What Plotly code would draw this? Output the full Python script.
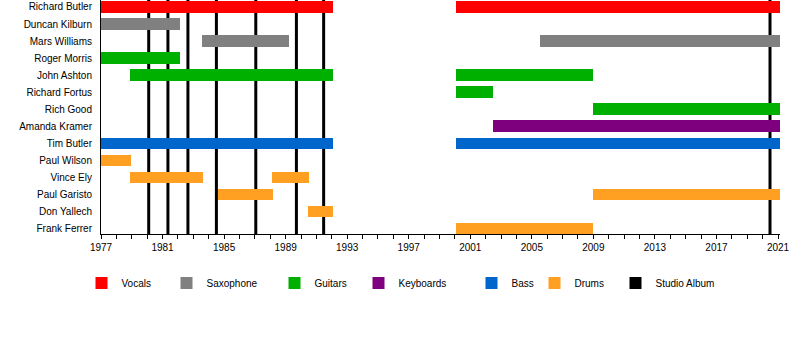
import plotly.graph_objects as go

members = ["Richard Butler", "Duncan Kilburn", "Mars Williams", "Roger Morris", "John Ashton",
           "Richard Fortus", "Rich Good", "Amanda Kramer", "Tim Butler", "Paul Wilson",
           "Vince Ely", "Paul Garisto", "Don Yallech", "Frank Ferrer"]

roles = ["Vocals", "Saxophone", "Guitars", "Keyboards", "Bass", "Drums"]
role_colors = ["#FF0000", "#808080", "#00B000", "#7F007F", "#0066CC", "#FFA022"]

span_member = ["Richard Butler", "Richard Butler", "Duncan Kilburn", "Mars Williams", "Mars Williams",
               "Roger Morris", "John Ashton", "John Ashton", "Richard Fortus", "Rich Good",
               "Amanda Kramer", "Tim Butler", "Tim Butler", "Paul Wilson", "Vince Ely", "Vince Ely",
               "Paul Garisto", "Paul Garisto", "Don Yallech", "Frank Ferrer"]
span_role = ["Vocals", "Vocals", "Saxophone", "Saxophone", "Saxophone",
             "Guitars", "Guitars", "Guitars", "Guitars", "Guitars",
             "Keyboards", "Bass", "Bass", "Drums", "Drums", "Drums",
             "Drums", "Drums", "Drums", "Drums"]
span_start = [1977.0, 2000.1, 1977.0, 1983.55, 2005.55,
              1977.0, 1978.9, 2000.1, 2000.1, 2008.95,
              2002.45, 1977.0, 2000.1, 1977.0, 1978.9, 1988.1,
              1984.6, 2008.95, 1990.45, 2000.1]
span_end = [1992.1, 2021.13, 1982.15, 1989.2, 2021.13,
            1982.15, 1992.1, 2009.0, 2002.5, 2021.13,
            2021.13, 1992.1, 2021.13, 1978.95, 1983.6, 1990.5,
            1988.15, 2021.13, 1992.1, 2009.0]

album_years = [1980.1, 1981.35, 1982.65, 1984.5, 1987.06, 1989.7, 1991.47, 2020.48]

tick_years = list(range(1977, 2022, 4))

legend_names = roles + ["Studio Album"]
legend_colors = role_colors + ["#000000"]
legend_text_x = [120, 205, 313, 397, 510, 573, 654]

fig = go.Figure()
legend_ids = ["legend"] + ["legend%d" % k for k in range(2, len(legend_names) + 1)]
for k, (role, color) in enumerate(zip(roles, role_colors)):
    idx = [i for i, r in enumerate(span_role) if r == role]
    fig.add_trace(go.Bar(
        orientation="h",
        y=[span_member[i] for i in idx],
        base=[span_start[i] for i in idx],
        x=[span_end[i] - span_start[i] for i in idx],
        marker=dict(color=color, line=dict(width=0)),
        width=0.68,
        name=role,
        showlegend=True,
        legend=legend_ids[k],
    ))

fig.add_trace(go.Bar(orientation="h", y=[None], x=[None], name="Studio Album",
                     marker=dict(color="#000000", line=dict(width=0)),
                     legend=legend_ids[-1]))

for yr in album_years:
    fig.add_shape(type="line", xref="x", yref="paper", x0=yr, x1=yr, y0=0, y1=1,
                  line=dict(color="#000000", width=3), layer="below")

legend_layout = {}
for lid, tx in zip(legend_ids, legend_text_x):
    legend_layout[lid] = dict(
        orientation="h", xref="container", x=(tx + 1.5 - 40) / 800.0,
        yref="container", y=(359 - 283) / 359.0,
        xanchor="left", yanchor="middle", font=dict(size=10),
        itemclick=False, bgcolor="rgba(0,0,0,0)", borderwidth=0,
    )

fig.update_layout(
    width=800, height=359,
    margin=dict(l=101, r=20, t=0, b=125, autoexpand=False),
    paper_bgcolor="white", plot_bgcolor="white",
    font=dict(family="Liberation Sans, Arial, sans-serif", size=10, color="#000000"),
    barmode="overlay",
    bargap=0,
    showlegend=True,
    hovermode=False,
    **legend_layout,
)

fig.update_xaxes(
    range=[1977, 2021.13], tickmode="array", tickvals=tick_years,
    ticktext=[str(y) for y in tick_years],
    showgrid=False, zeroline=False, showline=True, linecolor="#000000", linewidth=1,
    ticks="outside", ticklen=4, tickcolor="#000000", tickwidth=1,
    minor=dict(tickmode="linear", tick0=1977, dtick=1, ticks="outside", ticklen=4,
               tickcolor="#000000", tickwidth=1, showgrid=False),
    tickfont=dict(size=10),
)
fig.update_yaxes(
    type="category", categoryorder="array", categoryarray=members,
    range=[13.32, -0.41], showgrid=False, zeroline=False,
    showline=True, linecolor="#000000", linewidth=1,
    ticks="", ticklabelstandoff=6, tickfont=dict(size=10),
)

fig.write_html("out.html", config={"displayModeBar": False},
               post_script="document.body.style.margin='0';document.body.style.overflow='hidden';")
